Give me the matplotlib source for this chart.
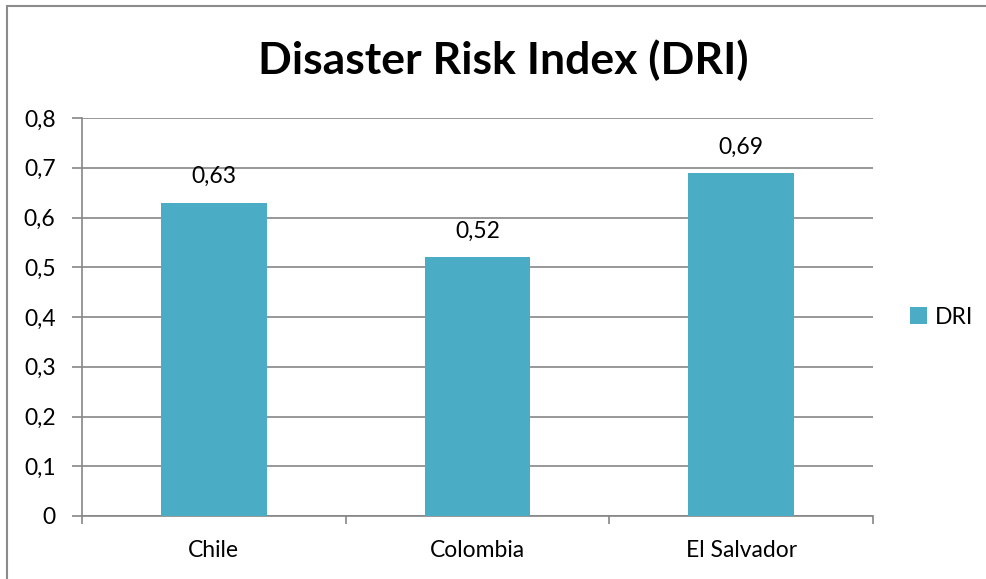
import matplotlib.pyplot as plt
from matplotlib.patches import Rectangle
from matplotlib.ticker import FuncFormatter

countries = ['Chile', 'Colombia', 'El Salvador']
dri = [0.63, 0.52, 0.69]
y_ticks = [0, 0.1, 0.2, 0.3, 0.4, 0.5, 0.6, 0.7, 0.8]

BAR_COLOR = '#4BACC6'
GRID_COLOR = '#868686'
plt.rcParams['font.family'] = ['Lato', 'DejaVu Sans']


def comma(v, _=None):
    s = f'{v:.2f}'.rstrip('0').rstrip('.')
    return s.replace('.', ',')


fig = plt.figure(figsize=(9.87, 5.79), dpi=100)
W, H = 987, 579

# outer chart frame
fig.patches.append(Rectangle((7 / W, -0.1), 1.2, 1 - 6 / H + 0.1, transform=fig.transFigure,
                             fill=False, edgecolor='#8c8c8c', linewidth=1.5))

ax = fig.add_axes([82 / W, 1 - 516 / H, (873 - 82) / W, (516 - 118) / H])
x = list(range(len(countries)))
bars = ax.bar(x, dri, width=0.4, color=BAR_COLOR, zorder=3, label='DRI')

ax.set_xlim(-0.5, len(countries) - 0.5)
ax.set_ylim(0, 0.8)
ax.set_yticks(y_ticks)
ax.yaxis.set_major_formatter(FuncFormatter(comma))
ax.set_xticks(x)
ax.set_xticklabels(countries)
ax.set_xticks([-0.5, 0.5, 1.5, 2.5], minor=True)
ax.tick_params(axis='x', which='major', length=0, pad=17, labelsize=16.5)
ax.tick_params(axis='x', which='minor', length=6, color=GRID_COLOR, width=1.2)
ax.tick_params(axis='y', length=7, color=GRID_COLOR, width=1.2, pad=12, labelsize=16.5)

ax.grid(axis='y', color=GRID_COLOR, linewidth=1.2, zorder=0)
for side in ['top', 'right']:
    ax.spines[side].set_visible(False)
for side in ['left', 'bottom']:
    ax.spines[side].set_color(GRID_COLOR)
    ax.spines[side].set_linewidth(1.2)

for b, v in zip(bars, dri):
    ax.annotate(comma(v), (b.get_x() + b.get_width() / 2, v), xytext=(0, 11),
                textcoords='offset points', ha='center', va='bottom', fontsize=16.5)

fig.text(503 / W, 1 - 60 / H, 'Disaster Risk Index (DRI)', ha='center', va='center',
         fontsize=32, fontweight='bold')

ax.legend(loc='center left', bbox_to_anchor=(1.035, 0.5),
          frameon=False, fontsize=16.5, handlelength=0.75, handleheight=0.75, handletextpad=0.35,
          borderaxespad=0)

fig.savefig('out.png', dpi=100)
